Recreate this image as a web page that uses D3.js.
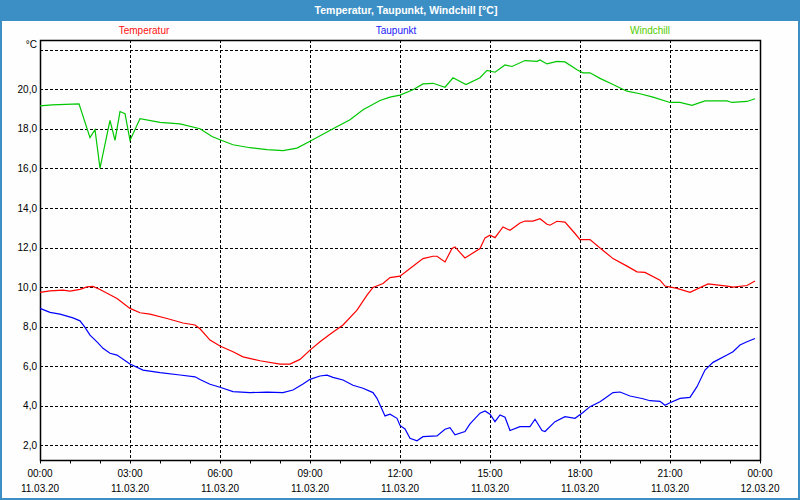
<!DOCTYPE html>
<html><head><meta charset="utf-8">
<script src="https://cdn.jsdelivr.net/npm/d3@7"></script>
<style>body{margin:0;background:#fff}svg{display:block}</style>
</head><body>
<script>
const title = "Temperatur, Taupunkt, Windchill [°C]";
const seriesNames = ["Temperatur", "Taupunkt", "Windchill"];
const seriesColors = ["#ff0000", "#0000ff", "#00c800"];
const legendColors = ["#ff1010", "#2020ff", "#55cc00"];
const yTicks = [2, 4, 6, 8, 10, 12, 14, 16, 18, 20, 22];
const day = "2020-03-11";

const temperatur = [["00:00",9.73],["00:20",9.81],["00:46",9.84],["01:00",9.79],["01:20",9.88],["01:34",10.01],["01:46",10.03],["02:00",9.88],["02:34",9.42],["03:00",8.92],["03:20",8.7],["03:40",8.63],["04:14",8.41],["04:46",8.18],["05:10",8.08],["05:20",7.89],["05:40",7.32],["06:00",7.02],["06:26",6.73],["06:46",6.47],["07:20",6.27],["08:00",6.1],["08:20",6.1],["08:40",6.34],["09:00",6.81],["09:20",7.23],["09:40",7.61],["10:06",8.08],["10:34",8.83],["10:54",9.59],["11:06",9.98],["11:26",10.18],["11:40",10.48],["12:00",10.55],["12:20",10.94],["12:46",11.44],["13:06",11.56],["13:14",11.56],["13:30",11.27],["13:44",11.95],["13:50",12.03],["14:10",11.47],["14:40",11.95],["14:50",12.49],["15:00",12.62],["15:10",12.5],["15:26",13.04],["15:40",12.87],["16:00",13.24],["16:10",13.34],["16:26",13.34],["16:40",13.46],["16:54",13.18],["17:00",13.13],["17:14",13.33],["17:30",13.29],["17:50",12.71],["18:00",12.4],["18:20",12.4],["18:40",11.98],["19:06",11.44],["19:34",11.06],["19:54",10.77],["20:10",10.74],["20:40",10.35],["20:50",10.05],["21:14",9.93],["21:40",9.73],["22:16",10.16],["22:54",10.05],["23:06",10.0],["23:34",10.08],["23:50",10.31]];

const taupunkt = [["00:00",8.92],["00:20",8.72],["00:40",8.63],["01:06",8.44],["01:20",8.29],["01:30",7.96],["01:40",7.57],["01:54",7.23],["02:06",6.9],["02:20",6.65],["02:34",6.56],["03:00",6.11],["03:26",5.8],["04:00",5.67],["04:40",5.55],["05:10",5.46],["05:20",5.32],["05:40",5.08],["06:00",4.93],["06:26",4.71],["07:00",4.66],["07:34",4.68],["08:06",4.66],["08:26",4.79],["08:46",5.1],["09:00",5.33],["09:20",5.5],["09:34",5.54],["09:46",5.43],["10:06",5.3],["10:26",5.03],["10:46",4.88],["11:06",4.66],["11:14",4.37],["11:30",3.48],["11:40",3.57],["11:54",3.36],["12:00",3.0],["12:10",2.82],["12:20",2.35],["12:34",2.22],["12:46",2.43],["13:14",2.47],["13:30",2.81],["13:40",2.89],["13:50",2.52],["14:10",2.69],["14:20",3.08],["14:40",3.62],["14:50",3.73],["15:00",3.57],["15:10",3.19],["15:20",3.53],["15:30",3.41],["15:40",2.74],["16:00",2.94],["16:20",2.94],["16:30",3.31],["16:44",2.74],["16:50",2.69],["17:10",3.19],["17:30",3.44],["17:50",3.36],["18:06",3.65],["18:20",3.95],["18:40",4.2],["18:50",4.37],["19:06",4.66],["19:20",4.69],["19:40",4.49],["20:06",4.35],["20:20",4.25],["20:40",4.22],["20:50",4.02],["21:00",4.15],["21:20",4.37],["21:40",4.42],["21:54",4.96],["22:10",5.8],["22:26",6.19],["22:54",6.56],["23:06",6.73],["23:20",7.07],["23:34",7.23],["23:50",7.4]];

const windchill = [["00:00",19.17],["00:24",19.22],["01:18",19.27],["01:40",17.56],["01:50",17.96],["02:00",16.02],["02:20",18.43],["02:30",17.42],["02:40",18.88],["02:50",18.77],["03:00",17.42],["03:20",18.52],["04:00",18.33],["04:40",18.26],["05:20",18.01],["05:44",17.62],["06:00",17.45],["06:26",17.2],["07:00",17.05],["07:34",16.95],["08:06",16.9],["08:34",17.03],["09:00",17.38],["09:46",18.01],["10:20",18.46],["10:46",18.97],["11:20",19.44],["11:40",19.61],["12:00",19.71],["12:26",19.98],["12:46",20.28],["13:06",20.31],["13:30",20.11],["13:46",20.59],["14:12",20.25],["14:40",20.59],["14:54",20.96],["15:10",20.87],["15:30",21.24],["15:44",21.16],["16:10",21.46],["16:34",21.42],["16:40",21.49],["16:54",21.29],["17:14",21.42],["17:30",21.39],["17:54",20.99],["18:06",20.84],["18:20",20.84],["18:40",20.56],["19:06",20.25],["19:34",19.91],["20:00",19.78],["20:26",19.61],["21:00",19.34],["21:20",19.34],["21:44",19.19],["22:10",19.42],["22:54",19.42],["23:04",19.34],["23:34",19.39],["23:50",19.53]];

const W = 800, H = 500;
const pL = 40, pR = 760, pT = 40, pB = 460;
const parse = d3.timeParse("%Y-%m-%d %H:%M");
const t0 = parse(day + " 00:00");
const t1 = d3.timeDay.offset(t0, 1);

const x = d3.scaleTime().domain([t0, t1]).range([pL, pR]);
const y = d3.scaleLinear().domain([1.25, 22.5]).range([pB, pT]);

const svg = d3.select("body").append("svg").attr("width", W).attr("height", H)
  .style("font-family", "'Liberation Sans', Arial, sans-serif");

svg.append("rect").attr("width", W).attr("height", H).attr("fill", "#3c8fc5");
svg.append("rect").attr("x", 2).attr("y", 21).attr("width", W - 4).attr("height", H - 23).attr("fill", "#fdfefd");

svg.append("text").attr("x", 406).attr("y", 14).attr("text-anchor", "middle")
  .attr("fill", "#fff").attr("font-weight", "bold").attr("font-size", "10.5px").text(title);

// legend
const legendX = [144, 396, 650];
seriesNames.forEach((n, i) => {
  svg.append("text").attr("x", legendX[i]).attr("y", 34).attr("text-anchor", "middle")
    .attr("font-size", "10px").attr("fill", legendColors[i]).text(n);
});

// grid
const g = svg.append("g");
g.selectAll("line.h").data(yTicks).join("line")
  .attr("x1", pL).attr("x2", pR)
  .attr("y1", d => Math.round(y(d)) + 0.5).attr("y2", d => Math.round(y(d)) + 0.5)
  .attr("stroke", "#000").attr("stroke-dasharray", "3,2");
const vt = d3.timeHour.every(3).range(d3.timeHour.offset(t0, 3), t1);
g.selectAll("line.v").data(vt).join("line")
  .attr("x1", d => Math.round(x(d)) + 0.5).attr("x2", d => Math.round(x(d)) + 0.5)
  .attr("y1", pT).attr("y2", pB)
  .attr("stroke", "#000").attr("stroke-dasharray", "3,2");

// y labels
svg.append("g").selectAll("text").data(yTicks.filter(d => d < 22)).join("text")
  .attr("x", 37).attr("y", d => y(d) + 3.5).attr("text-anchor", "end")
  .attr("font-size", "10px").attr("fill", "#000")
  .text(d => d3.format(".1f")(d).replace(".", ","));
svg.append("text").attr("x", 37).attr("y", 48).attr("text-anchor", "end")
  .attr("font-size", "10px").attr("fill", "#000").text("°C");

// x axis
const xAxis = d3.axisBottom(x).ticks(d3.timeHour.every(1)).tickSize(3).tickFormat("");
const ax = svg.append("g").attr("transform", `translate(0,${pB + 0.5})`).call(xAxis);
ax.select(".domain").remove();
ax.selectAll("line").attr("stroke", "#000");
const major = d3.timeHour.every(3).range(t0, d3.timeHour.offset(t1, 1));
const xl = svg.append("g").selectAll("g").data(major).join("g")
  .attr("transform", d => `translate(${x(d)},0)`);
xl.append("text").attr("y", 477).attr("text-anchor", "middle").attr("font-size", "10px")
  .attr("fill", "#000").text(d3.timeFormat("%H:%M"));
xl.append("text").attr("y", 492).attr("text-anchor", "middle").attr("font-size", "10px")
  .attr("fill", "#000").text(d3.timeFormat("%d.%m.%y"));

// frame
svg.append("rect").attr("x", pL + 0.5).attr("y", pT + 0.5)
  .attr("width", pR - pL).attr("height", pB - pT)
  .attr("fill", "none").attr("stroke", "#000").attr("stroke-width", 1.5);

// lines
const line = d3.line().x(d => x(parse(day + " " + d[0]))).y(d => y(d[1]));
[temperatur, taupunkt, windchill].forEach((s, i) => {
  svg.append("path").datum(s).attr("d", line).attr("fill", "none")
    .attr("stroke", seriesColors[i]).attr("stroke-width", 1.2);
});
</script>
</body></html>
